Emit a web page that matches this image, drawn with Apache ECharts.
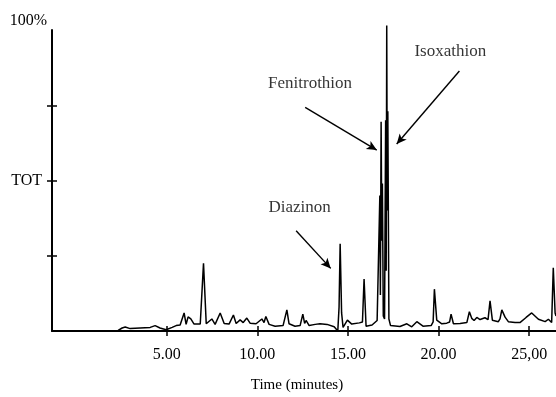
<!DOCTYPE html>
<html>
<head>
<meta charset="utf-8">
<script src="https://cdn.jsdelivr.net/npm/echarts@6/dist/echarts.min.js"></script>
<style>
  html, body { margin: 0; padding: 0; background: #fff; }
  #chart { width: 556px; height: 397px; }
</style>
</head>
<body>
<div id="chart"></div>
<script>
// retention time (minutes) and relative abundance (% of TOT)
const times = [
  -1.33, 2.32, 2.54, 2.71, 2.98, 3.53, 4.09, 4.36, 4.63, 4.97,
  5.30, 5.52, 5.74, 5.96, 6.07, 6.18, 6.33, 6.51, 6.85, 7.03,
  7.18, 7.49, 7.67, 7.95, 8.17, 8.44, 8.68, 8.83, 9.05, 9.22,
  9.42, 9.60, 9.93, 10.25, 10.37, 10.47, 10.65, 10.98, 11.42, 11.63,
  11.75, 12.08, 12.36, 12.51, 12.61, 12.69, 12.86, 13.19, 13.46, 13.85,
  14.24, 14.44, 14.51, 14.57, 14.65, 14.73, 14.97, 15.21, 15.63, 15.80,
  15.89, 16.00, 16.33, 16.61, 16.72, 16.76, 16.79, 16.83, 16.87, 16.90,
  16.95, 17.02, 17.08, 17.11, 17.14, 17.17, 17.20, 17.26, 17.35, 17.44,
  17.87, 18.25, 18.52, 18.80, 19.14, 19.59, 19.70, 19.77, 19.90, 20.18,
  20.45, 20.61, 20.69, 20.82, 21.19, 21.56, 21.70, 21.83, 21.96, 22.11,
  22.29, 22.56, 22.73, 22.84, 22.97, 23.30, 23.39, 23.49, 23.67, 23.85,
  24.22, 24.49, 24.83, 25.14, 25.51, 25.88, 26.06, 26.24, 26.33, 26.43,
  26.48
];
const signal = [
  0, 0.2, 1.0, 1.3, 0.8, 1.0, 1.2, 1.8, 1.0, 0.4,
  1.2, 1.8, 2.0, 6.0, 2.2, 4.7, 4.0, 2.3, 2.3, 22.5,
  2.4, 4.0, 2.2, 6.0, 2.5, 2.3, 5.3, 2.5, 3.7, 2.8,
  4.3, 2.6, 2.4, 4.0, 2.8, 4.8, 2.2, 1.6, 1.8, 7.0,
  2.4, 1.6, 1.8, 5.6, 2.5, 3.5, 1.8, 2.2, 2.4, 2.2,
  1.4, 0, 8, 29, 6, 1.2, 3.6, 2.3, 2.7, 3.0,
  17.3, 1.6, 2.0, 3.5, 4, 45, 12, 69.5, 30, 49,
  5, 4, 70, 20, 101.5, 40, 73, 4, 1.8, 1.8,
  1.5, 2.4, 1.4, 3.1, 1.6, 1.8, 3.0, 13.9, 3.6, 2.4,
  2.6, 3.0, 5.6, 2.4, 2.5, 2.8, 6.4, 4.2, 3.5, 4.5,
  3.8, 4.4, 3.8, 10, 3.6, 3.1, 4.0, 7.0, 4.6, 3.1,
  2.8, 2.8, 4.5, 6.0, 3.9, 3.1, 3.9, 2.8, 21, 6,
  5
];

const xTickValues = [5, 10, 15, 20, 25];
const xTickLabels = ['5.00', '10.00', '15.00', '20.00', '25,00'];
const yTickValues = [25, 50, 75];

// annotated compounds: label anchor and arrow (tail -> head), in minutes / %
const compoundNames = ['Diazinon', 'Fenitrothion', 'Isoxathion'];
const labelAt = [[12.33, 40.9], [12.91, 82.1], [20.65, 92.7]];
const arrowFrom = [[12.14, 33.3], [12.64, 74.3], [21.15, 86.4]];
const arrowTo = [[14.05, 20.8], [16.59, 60.1], [17.69, 62.1]];

const serif = '"Liberation Serif", "DejaVu Serif", serif';
const ink = '#000';

const chart = echarts.init(document.getElementById('chart'));

const xBase = {
  type: 'value', min: -1.33, max: 26.48, position: 'bottom',
  splitLine: { show: false }
};
const yBase = {
  type: 'value', min: 0, max: 100, position: 'left',
  splitLine: { show: false }
};

chart.setOption({
  animation: false,
  grid: { left: 52, right: 0, top: 30, bottom: 66, containLabel: false, outerBoundsMode: 'none' },
  xAxis: [
    {
      ...xBase,
      name: 'Time (minutes)',
      nameLocation: 'middle',
      nameGap: 47,
      nameTextStyle: { fontFamily: serif, fontSize: 15, color: ink, padding: [0, 14, 0, 0] },
      axisLine: { onZero: false, lineStyle: { color: ink, width: 2 } },
      axisTick: { show: true, customValues: xTickValues, length: 5, lineStyle: { color: ink, width: 1.5 } },
      axisLabel: {
        customValues: xTickValues,
        formatter: v => xTickLabels[xTickValues.indexOf(v)],
        fontFamily: serif, fontSize: 16, color: ink, margin: 16
      }
    },
    {
      ...xBase,
      axisLine: { show: false, onZero: false },
      axisTick: { show: true, inside: true, customValues: xTickValues, length: 5, lineStyle: { color: ink, width: 1.5 } },
      axisLabel: { show: false }
    }
  ],
  yAxis: [
    {
      ...yBase,
      name: '100%',
      nameLocation: 'end',
      nameGap: 1,
      nameTextStyle: { fontFamily: serif, fontSize: 16, color: ink, align: 'right', verticalAlign: 'bottom', padding: [0, 5, 0, 0] },
      axisLine: { show: true, onZero: false, lineStyle: { color: ink, width: 2 } },
      axisTick: { show: true, customValues: yTickValues, length: 5, lineStyle: { color: ink, width: 1.5 } },
      axisLabel: {
        customValues: [50],
        formatter: () => 'TOT',
        fontFamily: serif, fontSize: 16, color: ink, margin: 10
      }
    },
    {
      ...yBase,
      axisLine: { show: false, onZero: false },
      axisTick: { show: true, inside: true, customValues: yTickValues, length: 5, lineStyle: { color: ink, width: 1.5 } },
      axisLabel: { show: false }
    }
  ],
  series: [
    {
      type: 'line',
      xAxisIndex: 0,
      yAxisIndex: 0,
      data: times.map((t, i) => [t, signal[i]]),
      showSymbol: false,
      clip: false,
      sampling: 'none',
      lineStyle: { color: ink, width: 1.5 },
      silent: true,
      markLine: {
        silent: true,
        symbol: ['none', 'arrow'],
        symbolSize: [7, 10],
        label: { show: false },
        lineStyle: { color: ink, width: 1.4, type: 'solid' },
        data: arrowFrom.map((p, i) => [{ coord: p }, { coord: arrowTo[i] }])
      }
    },
    {
      type: 'scatter',
      data: labelAt.map((p, i) => ({ value: p, name: compoundNames[i] })),
      symbolSize: 0,
      silent: true,
      itemStyle: { color: ink },
      label: {
        show: true,
        position: 'inside',
        formatter: p => p.name,
        fontFamily: serif,
        fontSize: 17,
        color: ink,
        textBorderWidth: 0,
        textBorderColor: 'transparent'
      }
    }
  ]
});
</script>
</body>
</html>
